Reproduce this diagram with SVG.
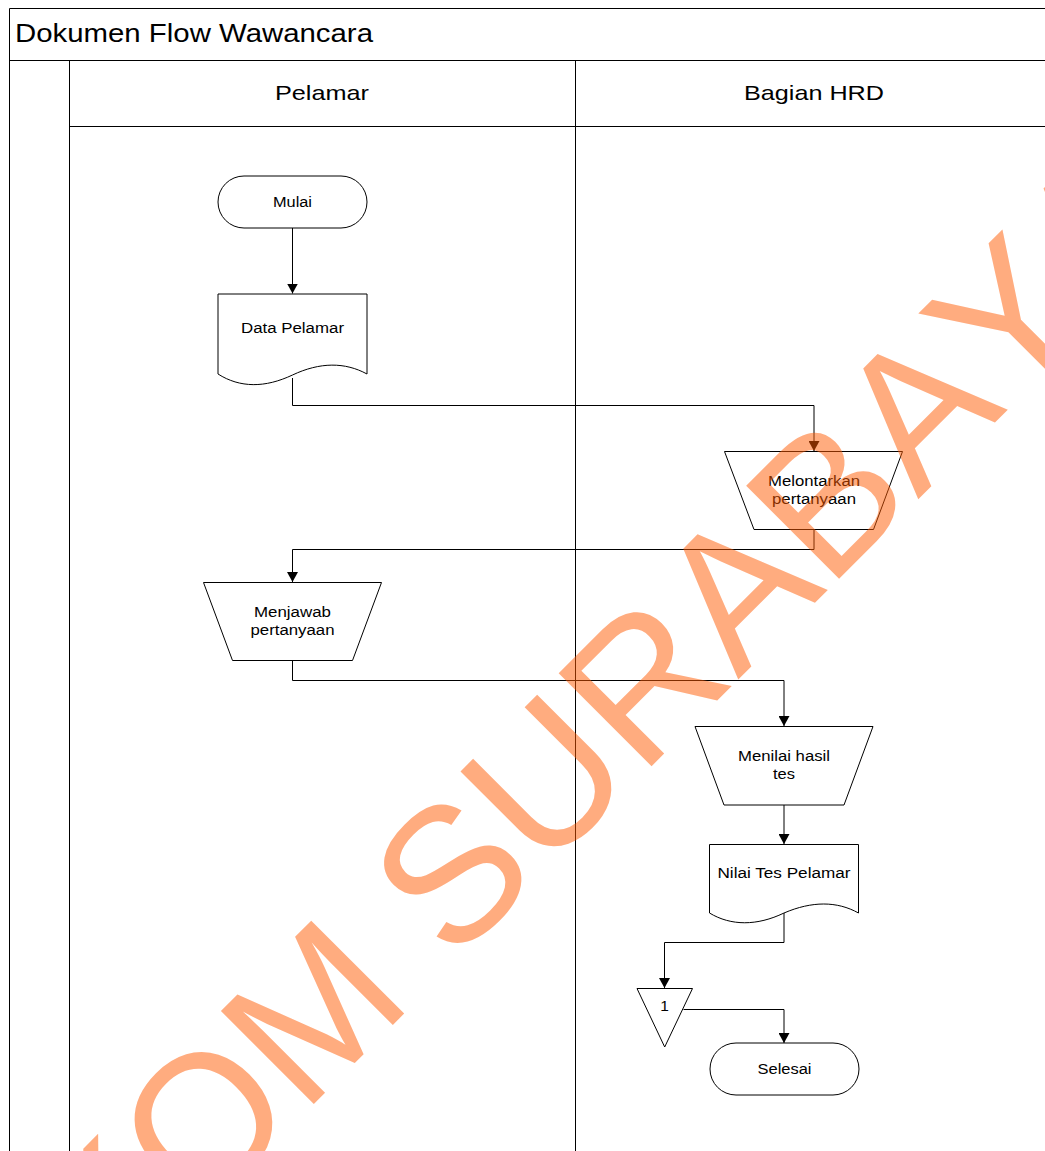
<svg xmlns="http://www.w3.org/2000/svg" width="1045" height="1151" viewBox="0 0 1045 1151">
<style>
.s{fill:#fff;stroke:#000;stroke-width:1}
.l{fill:none;stroke:#000;stroke-width:1}
.c{fill:none;stroke:#000;stroke-width:1;marker-end:url(#a)}
text{font-family:"Liberation Sans",Arial,sans-serif;fill:#000}
.t{font-size:15.5px;text-anchor:middle}
.h{font-size:21px;text-anchor:middle}
.w{font-size:191px;fill:#FF5A00;fill-opacity:.5;font-kerning:none}
</style>
<defs>
<marker id="a" markerUnits="userSpaceOnUse" markerWidth="11" markerHeight="11" refX="10" refY="5.5" orient="auto">
<path d="M0 0L10 5.5L0 11Z" fill="#000"/>
</marker>
</defs>
<rect width="1045" height="1151" fill="#fff"/>
<g id="pool">
<path class="l" d="M9.5 1151V8.5H1045M9.5 60.5H1045M69.5 60.5V1151M69.5 126.5H1045M575.5 60.5V1151"/>
<text x="15" y="42" font-size="26" textLength="358" lengthAdjust="spacingAndGlyphs">Dokumen Flow Wawancara</text>
<text class="h" x="322" y="100" textLength="94" lengthAdjust="spacingAndGlyphs">Pelamar</text>
<text class="h" x="814" y="100" textLength="140" lengthAdjust="spacingAndGlyphs">Bagian HRD</text>
</g>
<g id="connectors">
<path class="c" d="M292.5 228V293.5"/>
<path class="c" d="M292.5 378V405.5H814V451"/>
<path class="c" d="M814 529V549.5H292.5V582"/>
<path class="c" d="M292.5 660V680.5H784V726"/>
<path class="c" d="M784 805V844"/>
<path class="c" d="M784 913V942.5H664.5V988"/>
<path class="c" d="M683.5 1009.5H784V1043"/>
</g>
<g id="mulai"><rect class="s" x="218" y="176" width="149" height="52" rx="26" ry="26"/><text class="t" x="292.5" y="207" textLength="39" lengthAdjust="spacingAndGlyphs">Mulai</text></g>
<g id="data-pelamar"><path class="s" d="M218 294H367V374C345 362 320 362 292.5 375C265 388 240 388 218 374Z"/><text class="t" x="292.5" y="333" textLength="103" lengthAdjust="spacingAndGlyphs">Data Pelamar</text></g>
<g id="melontarkan"><path class="s" d="M724.5 451.5H902.5L873.5 529.5H754Z"/><text class="t" x="814" y="486" textLength="92" lengthAdjust="spacingAndGlyphs">Melontarkan</text><text class="t" x="814" y="504" textLength="84" lengthAdjust="spacingAndGlyphs">pertanyaan</text></g>
<g id="menjawab"><path class="s" d="M203.5 582.5H381.5L352.5 660.5H232.5Z"/><text class="t" x="292.5" y="617" textLength="77" lengthAdjust="spacingAndGlyphs">Menjawab</text><text class="t" x="292.5" y="635" textLength="84" lengthAdjust="spacingAndGlyphs">pertanyaan</text></g>
<g id="menilai"><path class="s" d="M695 726.5H873L844 805H724Z"/><text class="t" x="784" y="761" textLength="92" lengthAdjust="spacingAndGlyphs">Menilai hasil</text><text class="t" x="784" y="779" textLength="22" lengthAdjust="spacingAndGlyphs">tes</text></g>
<g id="nilai-tes"><path class="s" d="M709.5 844.5H858.5V913C837 901 812 901 784 913C757 926 731 926 709.5 913Z"/><text class="t" x="784" y="878" textLength="133" lengthAdjust="spacingAndGlyphs">Nilai Tes Pelamar</text></g>
<g id="off-page"><path class="s" d="M637 988.5H692.5L664.7 1047Z"/><text class="t" x="664.5" y="1011">1</text></g>
<g id="selesai"><rect class="s" x="710" y="1043" width="149" height="52" rx="26" ry="26"/><text class="t" x="784.5" y="1074" textLength="54" lengthAdjust="spacingAndGlyphs">Selesai</text></g>
<g id="watermark"><text class="w" transform="translate(302.8 1114.9) rotate(-45)" x="-276">KOM SURABAYA</text></g>
</svg>
